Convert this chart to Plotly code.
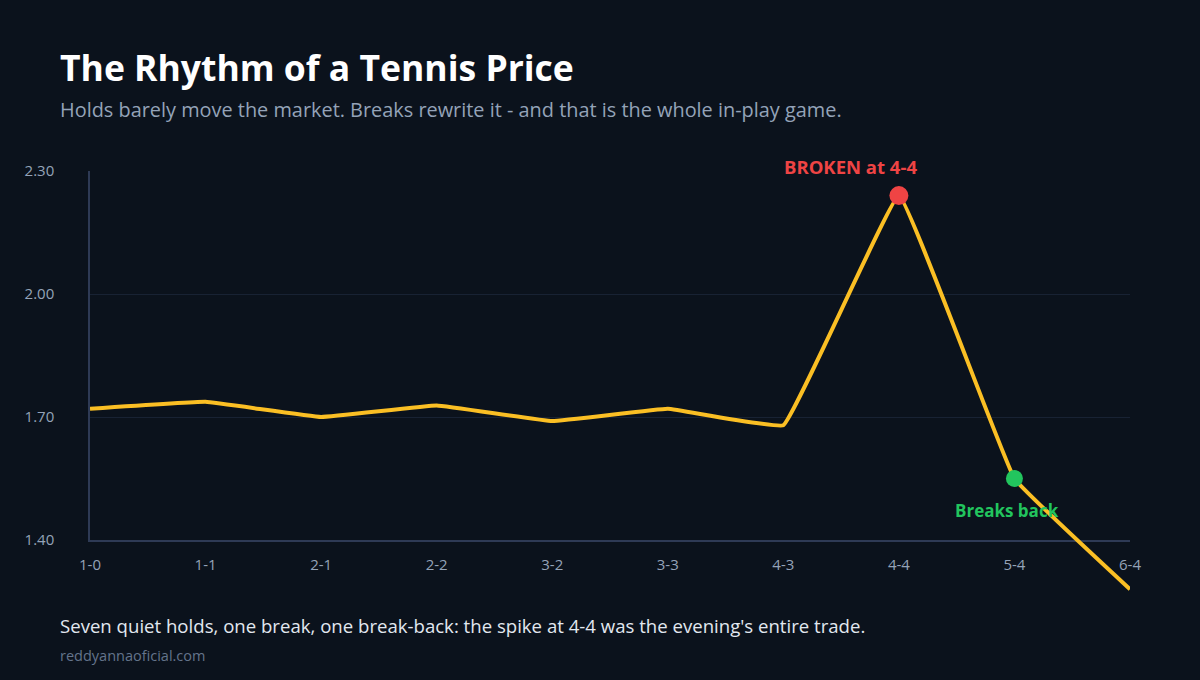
import plotly.graph_objects as go

games = ["1-0", "1-1", "2-1", "2-2", "3-2", "3-3", "4-3", "4-4", "5-4", "6-4"]
price = [1.72, 1.737, 1.70, 1.728, 1.69, 1.72, 1.68, 2.24, 1.55, 1.28]
y_ticks = [1.40, 1.70, 2.00, 2.30]
break_game, break_price = "4-4", 2.24
back_game, back_price = "5-4", 1.55

BG = "#0b121c"
W, H = 1200, 680
L, R, T, B = 90, 70, 171, 80
plot_h = H - T - B            # 429
axis_px = 540                  # pixel row of y = 1.40
y_lo, y_hi = 1.40, 2.30
px_per_unit = (axis_px - T) / (y_hi - y_lo)
y2_lo = y_hi - plot_h / px_per_unit
dom_lo = (H - B - axis_px) / plot_h


def py(p):
    return (H - B - p) / plot_h


fig = go.Figure()
# anchor trace for the visible axes (draws nothing)
fig.add_trace(go.Scatter(
    x=games, y=price, mode="none", xaxis="x", yaxis="y",
    hoverinfo="skip", showlegend=False,
))
fig.add_trace(go.Scatter(
    x=games, y=price, mode="lines", xaxis="x", yaxis="y2",
    line=dict(color="#fbbf24", width=4, shape="spline", smoothing=0.2),
    hoverinfo="skip", showlegend=False,
))
fig.add_trace(go.Scatter(
    x=[break_game], y=[break_price], mode="markers", xaxis="x", yaxis="y2",
    marker=dict(color="#ef4444", size=19),
    cliponaxis=False, showlegend=False, hoverinfo="skip",
))
fig.add_trace(go.Scatter(
    x=[back_game], y=[back_price], mode="markers", xaxis="x", yaxis="y2",
    marker=dict(color="#22c55e", size=17),
    cliponaxis=False, showlegend=False, hoverinfo="skip",
))
fig.add_annotation(
    x=break_game, y=break_price, xref="x", yref="y2", text="<b>BROKEN at 4-4</b>",
    showarrow=False, yshift=29, xshift=-48,
    font=dict(color="#ef4444", size=18.5, family="Open Sans"),
)
fig.add_annotation(
    x=back_game, y=back_price, xref="x", yref="y2", text="<b>Breaks back</b>",
    showarrow=False, yshift=-32, xshift=-7,
    font=dict(color="#22c55e", size=17, family="Open Sans"),
)

fig.update_layout(
    width=W, height=H,
    margin=dict(l=L, r=R, t=T, b=B),
    paper_bgcolor=BG, plot_bgcolor="rgba(0,0,0,0)",
    font=dict(family="Open Sans", color="#94a3b8", size=15),
    xaxis=dict(
        type="category", range=[0, len(games) - 1], anchor="y",
        showgrid=False, showline=True, linecolor="#2e3a55", linewidth=1.5,
        ticks="", tickfont=dict(size=15, color="#94a3b8"), ticklabelstandoff=10,
        zeroline=False,
    ),
    yaxis=dict(
        domain=[dom_lo, 1], range=[y_lo, y_hi], tickvals=y_ticks, anchor="x",
        ticktext=[f"{v:.2f}" for v in y_ticks],
        showgrid=True, gridcolor="#182233", gridwidth=1,
        showline=True, linecolor="#2e3a55", linewidth=1.5,
        zeroline=False, ticks="", tickfont=dict(size=15, color="#94a3b8"),
        ticklabelstandoff=31,
    ),
    yaxis2=dict(
        domain=[0, 1], range=[y2_lo, y_hi], anchor="x",
        visible=False, showgrid=False, zeroline=False,
    ),
)

x0 = (58 - L) / (W - L - R)
fig.add_annotation(
    xref="paper", yref="paper", x=x0, y=py(67),
    xanchor="left", yanchor="middle", showarrow=False,
    text="<b>The Rhythm of a Tennis Price</b>",
    font=dict(size=35.5, color="#ffffff", family="Open Sans"),
)
fig.add_annotation(
    xref="paper", yref="paper", x=x0, y=py(109),
    xanchor="left", yanchor="middle", showarrow=False,
    text="Holds barely move the market. Breaks rewrite it - and that is the whole in-play game.",
    font=dict(size=19.9, color="#94a3b8", family="Open Sans"),
)
fig.add_annotation(
    xref="paper", yref="paper", x=x0, y=py(625),
    xanchor="left", yanchor="middle", showarrow=False,
    text="Seven quiet holds, one break, one break-back: the spike at 4-4 was the evening's entire trade.",
    font=dict(size=18.6, color="#e2e8f0", family="Open Sans"),
)
fig.add_annotation(
    xref="paper", yref="paper", x=x0, y=py(655),
    xanchor="left", yanchor="middle", showarrow=False,
    text="reddyannaoficial.com",
    font=dict(size=14.5, color="#64748b", family="Open Sans"),
)

fig.write_html(
    "out.html",
    config={"displayModeBar": False},
    post_script="document.body.style.margin='0';document.body.style.background='" + BG + "';",
)
